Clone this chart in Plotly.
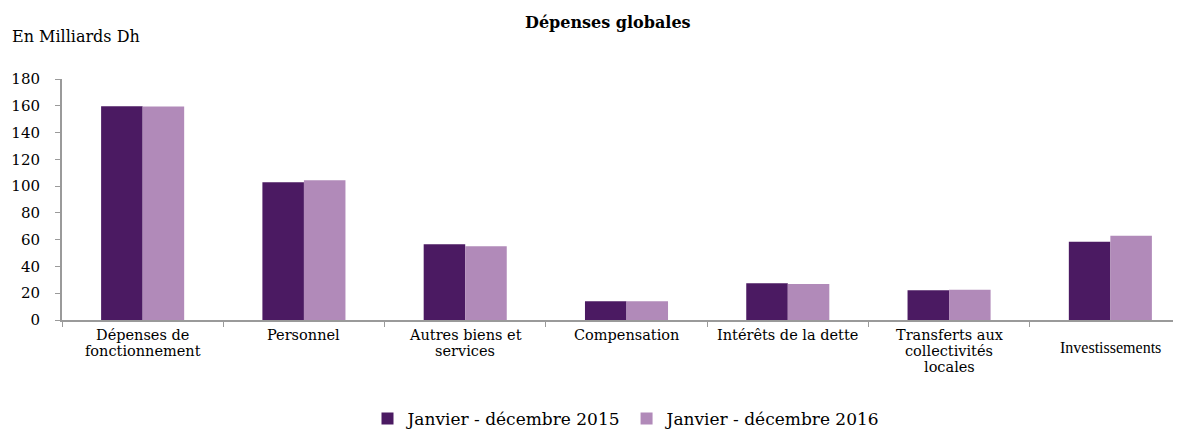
import plotly.graph_objects as go

categories = ["Dépenses de<br>fonctionnement", "Personnel", "Autres biens et<br>services",
              "Compensation", "Intérêts de la dette", "Transferts aux<br>collectivités<br>locales",
              "Investissements"]
cat_keys = ["c0", "c1", "c2", "c3", "c4", "c5", "c6"]
series_names = ["Janvier - décembre 2015", "Janvier - décembre 2016"]
values_2015 = [159.6, 102.8, 56.5, 14.0, 27.4, 22.2, 58.5]
values_2016 = [159.5, 104.3, 55.0, 14.0, 26.9, 22.6, 63.0]
y_ticks = [0, 20, 40, 60, 80, 100, 120, 140, 160, 180]

colors = ["#4b1a62", "#b18ab9"]
serif = "DejaVu Serif"

fig = go.Figure()
for name, vals, col in zip(series_names, [values_2015, values_2016], colors):
    fig.add_trace(go.Bar(x=cat_keys, y=vals, name=name, marker=dict(color=col, line=dict(width=0))))

annotations = []
for key, lab in zip(cat_keys, categories):
    special = lab == "Investissements"
    lines = lab.split("<br>")
    for i, line in enumerate(lines):
        annotations.append(dict(
            x=key, xref="x", y=0, yref="paper", yanchor="middle", xanchor="center",
            yshift=-27 if special else -15 - 16 * i,
            text=line, showarrow=False, align="center", borderpad=0,
            font=dict(family="Liberation Serif" if special else serif, size=16 if special else 14.5, color="#000"),
        ))
annotations.append(dict(x=(608 - 62) / 1119, xref="paper", y=1, yref="paper", yshift=57, yanchor="middle",
                        xanchor="center", text="<b>Dépenses globales</b>", showarrow=False,
                        font=dict(family=serif, size=16, color="#000")))
annotations.append(dict(x=(10 - 62) / 1119, xref="paper", y=1, yref="paper", yshift=43, yanchor="middle",
                        xanchor="left", text="En Milliards Dh", showarrow=False,
                        font=dict(family=serif, size=16, color="#000")))

fig.update_layout(
    width=1173, height=422,
    margin=dict(l=54, r=0, t=71, b=110, autoexpand=False),
    paper_bgcolor="white", plot_bgcolor="white",
    barmode="group", bargap=0.485, bargroupgap=0,
    font=dict(family=serif, color="#000"),
    annotations=annotations,
    legend=dict(orientation="h", x=(627 - 62) / 1119, xanchor="center", y=(320 - 419) / 241, yanchor="middle",
                font=dict(family=serif, size=17, color="#000"), itemwidth=30, traceorder="normal"),
    xaxis=dict(showticklabels=False, range=[-0.5, 6.438], showline=True, linecolor="#9a9a9a", linewidth=2,
               ticks="outside", tickson="boundaries", ticklen=5, tickcolor="#9a9a9a", showgrid=False,
               fixedrange=True),
    yaxis=dict(range=[0, 180], tickvals=y_ticks, showline=True, linecolor="#9a9a9a", linewidth=2,
               ticks="outside", ticklen=5, tickcolor="#9a9a9a", showgrid=False, zeroline=False,
               tickfont=dict(family=serif, size=15, color="#000"), ticklabelstandoff=12),
)

fig.write_html("out.html")
